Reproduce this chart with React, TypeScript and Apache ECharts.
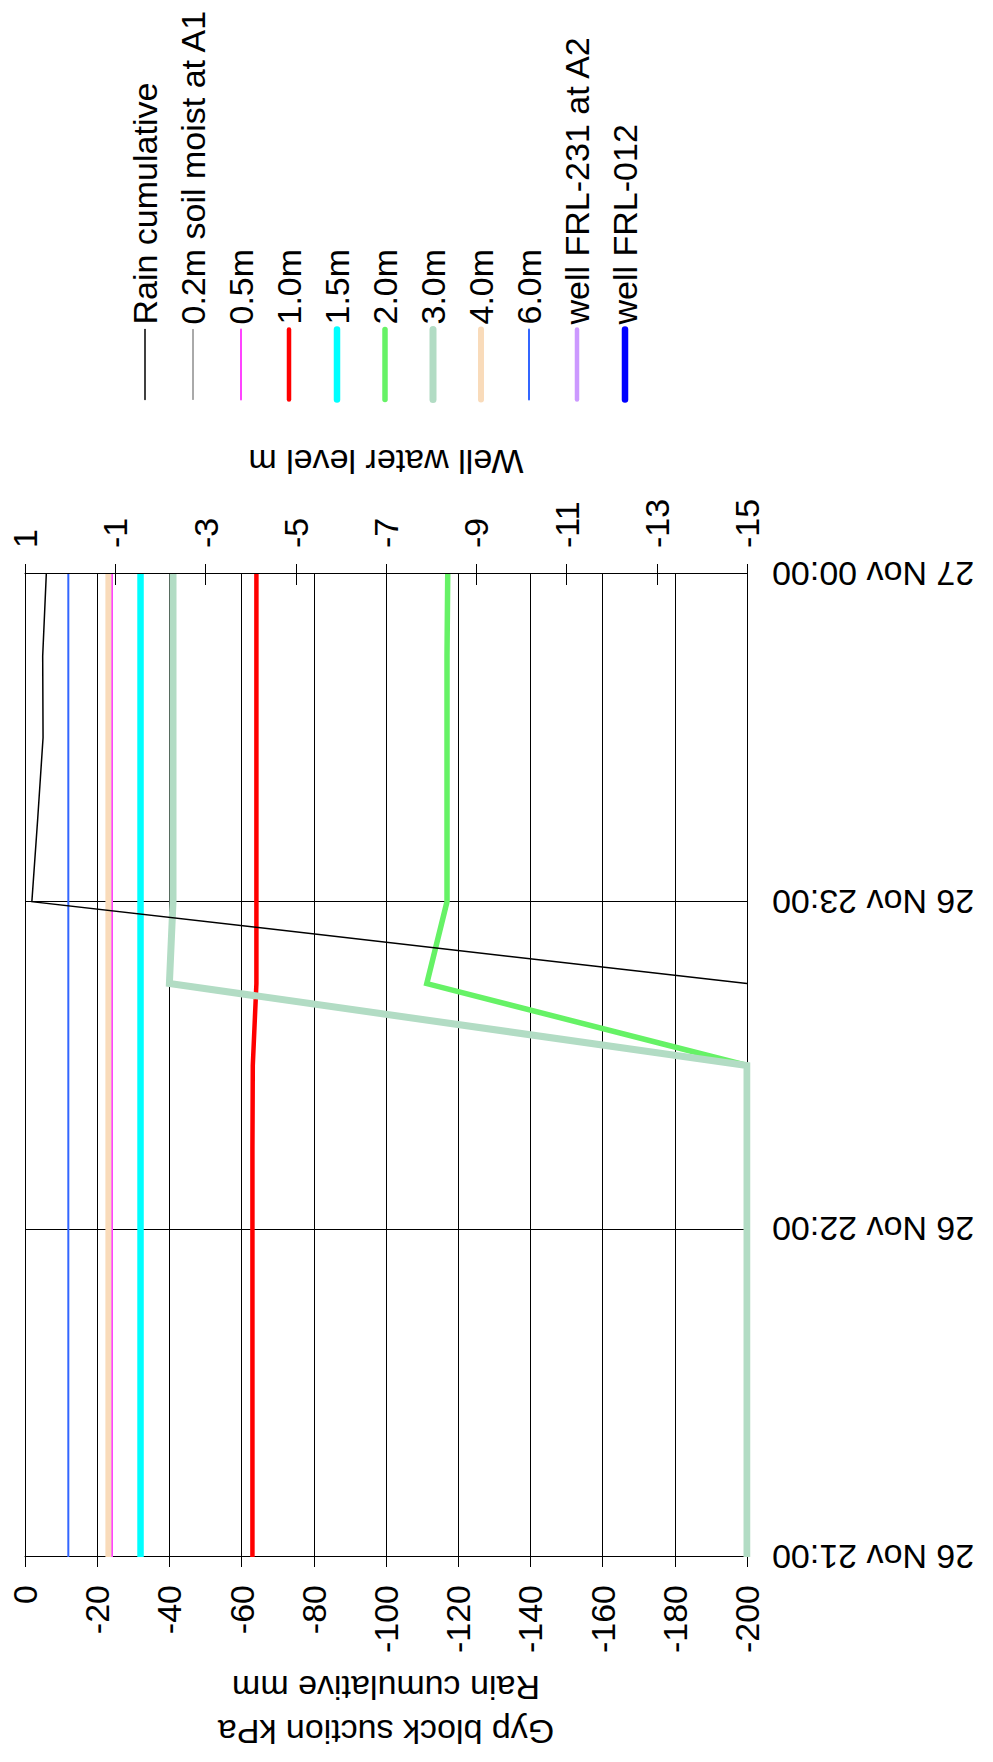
import React, { useEffect, useRef } from "react";
import * as echarts from "echarts";

// ---- data (15-minute samples, 26 Nov 21:00 -> 27 Nov 00:00) ----
const times = [
  "26 Nov 21:00", "26 Nov 21:15", "26 Nov 21:30", "26 Nov 21:45",
  "26 Nov 22:00", "26 Nov 22:15", "26 Nov 22:30", "26 Nov 22:45",
  "26 Nov 23:00", "26 Nov 23:15", "26 Nov 23:30", "26 Nov 23:45",
  "27 Nov 00:00",
];

const rainCumulative = [null, null, null, null, null, null, null, -200, -1.9, -3.5, -5.0, -4.9, -5.9];
const soil02A1: (number | null)[] = [];
const soil05 = [-24.1, -24.1, -24.1, -24.1, -24.1, -24.1, -24.1, -24.1, -24.1, -24.1, -24.1, -24.1, -24.1];
const soil10 = [-63.0, -63.0, -63.0, -63.0, -63.0, -63.0, -63.1, -64.1, -64.1, -64.1, -64.1, -64.1, -64.1];
const soil15 = [-32.0, -32.0, -32.0, -32.0, -32.0, -32.0, -32.0, -32.0, -32.0, -32.0, -32.0, -32.0, -32.0];
const soil20 = [-200, -200, -200, -200, -200, -200, -200, -111.3, -116.9, -116.9, -116.9, -116.9, -117.1];
const soil30 = [-200, -200, -200, -200, -200, -200, -200, -40.0, -41.0, -41.0, -41.0, -41.0, -41.0];
const soil40 = [-23.1, -23.1, -23.1, -23.1, -23.1, -23.1, -23.1, -23.1, -23.1, -23.1, -23.1, -23.1, -23.1];
const soil60 = [-12.0, -12.0, -12.0, -12.0, -12.0, -12.0, -12.0, -12.0, -12.0, -12.0, -12.0, -12.0, -12.0];
const wellFRL231A2: (number | null)[] = [];
const wellFRL012: (number | null)[] = [];

const seriesNames = [
  "Rain cumulative", "0.2m soil moist at A1", "0.5m", "1.0m", "1.5m", "2.0m",
  "3.0m", "4.0m", "6.0m", "well FRL-231 at A2", "well FRL-012",
];
const seriesData = [
  rainCumulative, soil02A1, soil05, soil10, soil15, soil20,
  soil30, soil40, soil60, wellFRL231A2, wellFRL012,
];

// styles (not data)
const seriesColors = [
  "#000000", "#555555", "#ff44ff", "#ff0000", "#00ffff", "#66f266",
  "#b2dcc4", "#f9dbba", "#3366ff", "#cc99ff", "#0000ff",
];
const seriesWidths = [1.5, 1, 2, 4.5, 6.5, 5.5, 7, 6, 2, 4.5, 6.5];
const seriesAxis = [0, 0, 0, 0, 0, 0, 0, 0, 0, 1, 1];

const FONT = "'Liberation Sans', Arial, sans-serif";
const FS = 34;
const W = 1762;
const H = 993;

export default function App() {
  const ref = useRef<HTMLDivElement>(null);

  useEffect(() => {
    document.body.style.overflow = "hidden";
    const chart = echarts.init(ref.current!, null, { renderer: "svg" });
    const black = "#000";

    const series = seriesNames.map((name, i) => ({
      name,
      type: "line",
      data: seriesData[i],
      yAxisIndex: seriesAxis[i],
      xAxisIndex: 0,
      symbol: "none",
      showSymbol: false,
      connectNulls: false,
      lineStyle: { color: seriesColors[i], width: seriesWidths[i], join: "miter" },
      itemStyle: { color: seriesColors[i] },
      z: i === 0 ? 20 : 2 + i,
    }));

    const legendData = seriesNames.map((name, i) => ({
      name,
      lineStyle: { width: seriesWidths[i], color: seriesColors[i], cap: "round" },
      itemStyle: { opacity: 0 },
    }));

    chart.setOption({
      animation: false,
      backgroundColor: "#fff",
      textStyle: { fontFamily: FONT },
      grid: { left: 198, right: 574, top: 25, bottom: 246, containLabel: false },
      legend: {
        orient: "vertical",
        left: 1354,
        top: 120,
        itemWidth: 70,
        itemHeight: 2,
        itemGap: 8,
        selectedMode: false,
        data: legendData,
        textStyle: { fontSize: FS, lineHeight: 40, color: black, fontFamily: FONT },
      },
      xAxis: [
        {
          type: "category",
          data: times,
          boundaryGap: false,
          position: "bottom",
          axisLine: { show: true, lineStyle: { color: black, width: 1 } },
          axisTick: { show: true, interval: 3, length: 9, lineStyle: { color: black } },
          axisLabel: {
            interval: 3, rotate: 90, margin: 25, fontSize: FS, color: black, fontFamily: FONT,
          },
          splitLine: { show: true, interval: 3, lineStyle: { color: black, width: 1 } },
        },
        {
          type: "category",
          data: times,
          boundaryGap: false,
          position: "bottom",
          axisLine: { show: false },
          axisTick: { show: true, inside: true, interval: 3, length: 7, lineStyle: { color: black } },
          axisLabel: { show: false },
          splitLine: { show: false },
        },
      ],
      yAxis: [
        {
          type: "value",
          position: "left",
          min: -200,
          max: 0,
          interval: 20,
          name: "Gyp block suction kPa\nRain cumulative mm",
          nameLocation: "middle",
          nameRotate: 90,
          nameGap: 109,
          nameTextStyle: { fontSize: FS, lineHeight: 44, color: black, fontFamily: FONT },
          axisLine: { show: true, lineStyle: { color: black, width: 1 } },
          axisTick: { show: true, length: 10, lineStyle: { color: black } },
          axisLabel: { margin: 28, fontSize: FS, color: black, fontFamily: FONT },
          splitLine: { show: true, lineStyle: { color: black, width: 1 } },
        },
        {
          type: "value",
          position: "right",
          min: -15,
          max: 1,
          interval: 2,
          name: "Well water level m",
          nameLocation: "middle",
          nameRotate: 90,
          nameGap: 95,
          nameTextStyle: { fontSize: FS, lineHeight: 34, color: black, fontFamily: FONT },
          axisLine: { show: true, lineStyle: { color: black, width: 1 } },
          axisTick: { show: true, length: 10, lineStyle: { color: black } },
          axisLabel: { margin: 26, fontSize: FS, color: black, fontFamily: FONT },
          splitLine: { show: false },
        },
        {
          type: "value",
          position: "right",
          min: -15,
          max: 1,
          interval: 2,
          axisLine: { show: false },
          axisTick: { show: true, inside: true, length: 11, lineStyle: { color: black } },
          axisLabel: { show: false },
          splitLine: { show: false },
        },
      ],
      series,
    });

    return () => chart.dispose();
  }, []);

  return (
    <div
      style={{
        position: "absolute",
        left: 0,
        top: 0,
        width: W,
        height: H,
        transformOrigin: "0 0",
        transform: `translate(0px, ${W}px) rotate(-90deg)`,
        background: "#fff",
      }}
    >
      <div ref={ref} style={{ width: W, height: H }} />
    </div>
  );
}
